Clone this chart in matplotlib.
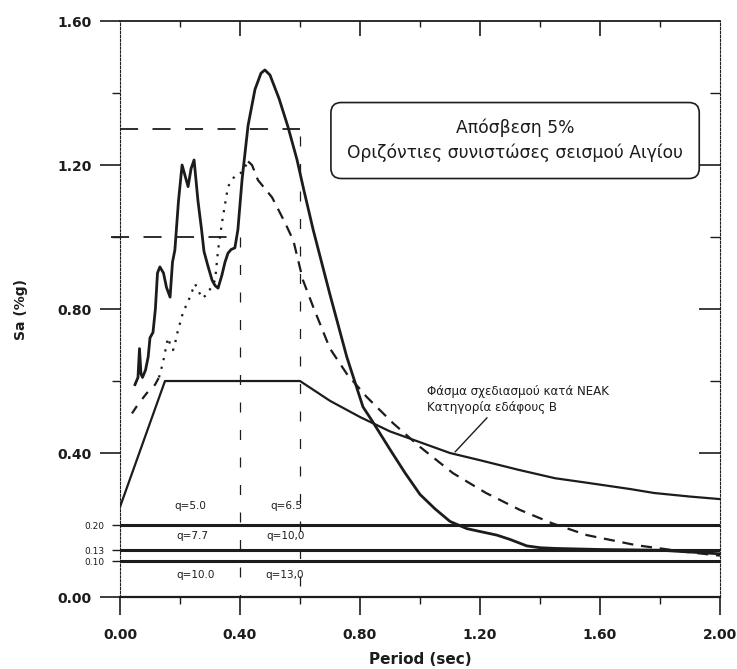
import numpy as np
import matplotlib
matplotlib.use("Agg")
import matplotlib.pyplot as plt

# recorded spectrum, solid line (period in sec, Sa in g)
rec_T = [0.05, 0.06, 0.065, 0.07, 0.075, 0.085, 0.094, 0.10, 0.11, 0.118, 0.125, 0.133,
         0.145, 0.155, 0.167, 0.175, 0.183, 0.195, 0.207, 0.217, 0.227, 0.237, 0.247,
         0.26, 0.272, 0.28, 0.293, 0.307, 0.317, 0.327, 0.34, 0.35, 0.36, 0.37, 0.383,
         0.393, 0.407, 0.427, 0.45, 0.47, 0.483, 0.50, 0.53, 0.56, 0.59, 0.613, 0.644,
         0.70, 0.756, 0.81, 0.84, 0.87, 0.90, 0.95, 1.0, 1.05, 1.10, 1.156, 1.20, 1.256,
         1.30, 1.356, 1.40, 1.45, 1.60, 1.80, 2.0]
rec_Sa = [0.59, 0.61, 0.69, 0.62, 0.61, 0.63, 0.667, 0.72, 0.735, 0.80, 0.90, 0.917,
          0.90, 0.86, 0.833, 0.93, 0.964, 1.10, 1.20, 1.17, 1.14, 1.19, 1.214,
          1.10, 1.02, 0.96, 0.92, 0.88, 0.865, 0.858, 0.895, 0.93, 0.955, 0.965, 0.97,
          1.02, 1.16, 1.31, 1.41, 1.455, 1.464, 1.45, 1.385, 1.306, 1.215, 1.13, 1.02,
          0.84, 0.667, 0.528, 0.49, 0.45, 0.41, 0.345, 0.285, 0.245, 0.21, 0.19, 0.182,
          0.172, 0.16, 0.142, 0.137, 0.135, 0.132, 0.13, 0.12]

# second component, dotted then dashed
rec2_T = [0.04, 0.06, 0.09, 0.117, 0.13, 0.143, 0.155, 0.16, 0.168, 0.177, 0.185, 0.193,
          0.21, 0.233, 0.25, 0.262, 0.273, 0.29, 0.317, 0.327, 0.34, 0.36, 0.383, 0.407,
          0.427, 0.44, 0.46, 0.507, 0.55, 0.578, 0.61, 0.644, 0.70, 0.756, 0.822, 0.91,
          1.0, 1.11, 1.22, 1.333, 1.44, 1.556, 1.72, 1.89, 2.0]
rec2_Sa = [0.51, 0.535, 0.567, 0.59, 0.61, 0.65, 0.70, 0.72, 0.70, 0.686, 0.71, 0.74,
           0.79, 0.833, 0.87, 0.85, 0.83, 0.84, 0.88, 0.964, 1.04, 1.14, 1.17, 1.18,
           1.21, 1.20, 1.158, 1.11, 1.04, 0.99, 0.88, 0.806, 0.69, 0.62, 0.556, 0.483,
           0.417, 0.344, 0.289, 0.242, 0.205, 0.172, 0.144, 0.125, 0.115]

# design spectrum (NEAK, soil B)
neak_T = [0.0, 0.15, 0.60, 0.70, 0.80, 0.90, 1.0, 1.10, 1.20, 1.33, 1.45, 1.56, 1.70,
          1.78, 1.90, 2.0]
neak_Sa = [0.25, 0.60, 0.60, 0.545, 0.50, 0.46, 0.43, 0.40, 0.38, 0.353, 0.33, 0.317,
           0.30, 0.289, 0.279, 0.272]

# design levels for behaviour factors q
q_levels = [0.20, 0.13, 0.10]
q_level_labels = ["0.20", "0.13", "0.10"]

ink = "#1c1c1c"

fig = plt.figure(figsize=(7.37, 6.69), dpi=100)
ax = fig.add_axes([0.1628, 0.1076, 0.8141, 0.861])
ax.set_xlim(0, 2.0)
ax.set_ylim(0, 1.6)

# curves
ax.plot(rec_T, rec_Sa, color=ink, lw=2.0, solid_joinstyle="round", zorder=4)
t2 = np.array(rec2_T)
s2 = np.array(rec2_Sa)
m1 = t2 <= 0.13
m2 = (t2 >= 0.13) & (t2 <= 0.427)
m3 = t2 >= 0.427
ax.plot(t2[m1], s2[m1], color=ink, lw=1.6, linestyle=(0, (4, 4)), zorder=4)
ax.plot(t2[m2], s2[m2], color=ink, lw=1.6, linestyle=(0, (1, 3)), zorder=4)
ax.plot(t2[m3], s2[m3], color=ink, lw=1.6, linestyle=(0, (5, 3.5)), zorder=4)
ax.plot(neak_T, neak_Sa, color=ink, lw=1.6, solid_joinstyle="round", zorder=4)

for lvl in q_levels:
    ax.axhline(lvl, color=ink, lw=2.2, zorder=3)

# dashed guide frame
ax.plot([0, 0.6], [1.3, 1.3], color=ink, lw=1.3, linestyle=(0, (10, 8)), zorder=2)
ax.plot([-0.03, 0.4], [1.0, 1.0], color=ink, lw=1.3, linestyle=(0, (10, 8)), zorder=2,
        clip_on=False)
ax.plot([0.4, 0.4], [1.0, 0], color=ink, lw=0.9, linestyle=(0, (8, 14)), zorder=2)
ax.plot([0.6, 0.6], [1.28, 0], color=ink, lw=0.9, linestyle=(0, (8, 14)), zorder=2)

# q labels
qtxt = dict(fontsize=7.5, color=ink, ha="center", va="center")
ax.text(0.233, 0.253, "q=5.0", **qtxt)
ax.text(0.556, 0.253, "q=6.5", **qtxt)
ax.text(0.24, 0.17, "q=7.7", **qtxt)
ax.text(0.553, 0.17, "q=10,0", **qtxt)
ax.text(0.253, 0.061, "q=10.0", **qtxt)
ax.text(0.55, 0.061, "q=13,0", **qtxt)

# info box
ax.text(1.317, 1.268, "Απόσβεση 5%\nΟριζόντιες συνιστώσες σεισμού Αιγίου",
        fontsize=12.3, color=ink, ha="center", va="center", multialignment="center",
        linespacing=1.45,
        bbox=dict(boxstyle="round,pad=0.95,rounding_size=0.6", fc="white", ec=ink, lw=1.2),
        zorder=5)

# design spectrum annotation
ax.annotate("Φάσμα σχεδιασμού κατά ΝΕΑΚ\nΚατηγορία εδάφους Β",
            xy=(1.117, 0.403), xytext=(1.023, 0.548), fontsize=8.6, color=ink,
            ha="left", va="center", linespacing=1.25,
            arrowprops=dict(arrowstyle="-", color=ink, lw=1.0, relpos=(0.35, 0),
                            shrinkA=1, shrinkB=0))

# spines
for s in ["left", "right"]:
    ax.spines[s].set_linestyle((0, (2, 1.5)))
    ax.spines[s].set_linewidth(0.8)
    ax.spines[s].set_color(ink)
ax.spines["top"].set_linewidth(1.3)
ax.spines["bottom"].set_linewidth(1.6)
ax.spines["top"].set_color(ink)
ax.spines["bottom"].set_color(ink)

# ticks
ax.set_xticks(np.arange(0, 2.01, 0.4))
ax.set_xticks(np.arange(0.2, 2.0, 0.4), minor=True)
ax.set_yticks([0, 0.4, 0.8, 1.2, 1.6])
ax.set_yticks(q_levels + [0.6, 1.0, 1.4], minor=True)
ax.set_xticklabels([f"{v:.2f}" for v in np.arange(0, 2.01, 0.4)])
ax.set_yticklabels(["0.00", "0.40", "0.80", "1.20", "1.60"])
ax.set_yticklabels(q_level_labels + ["", "", ""], minor=True)
ax.tick_params(axis="both", which="major", colors=ink, width=1.2, labelsize=10)
ax.tick_params(axis="x", which="major", direction="out", length=13, pad=9)
ax.tick_params(axis="x", which="minor", direction="out", length=5, width=1.0, colors=ink)
ax.tick_params(axis="y", which="major", direction="out", length=14.4, pad=6)
ax.tick_params(axis="y", which="minor", direction="out", length=6, width=1.0,
               colors=ink, labelsize=6.5, pad=5)
for lab in ax.get_xticklabels() + ax.get_yticklabels():
    lab.set_fontweight("bold")

top = ax.secondary_xaxis("top")
top.set_xticks(np.arange(0.4, 2.0, 0.4))
top.set_xticks(np.arange(0.2, 2.0, 0.4), minor=True)
top.tick_params(which="major", direction="in", length=11, width=1.2, colors=ink,
                labeltop=False)
top.tick_params(which="minor", direction="in", length=4, width=1.0, colors=ink)
top.spines["top"].set_visible(False)

right = ax.secondary_yaxis("right")
right.set_yticks([0.4, 0.8, 1.2])
right.set_yticks([0.6, 1.0, 1.4], minor=True)
right.tick_params(which="major", direction="in", length=15, width=1.2, colors=ink,
                  labelright=False)
right.tick_params(which="minor", direction="in", length=7, width=1.0, colors=ink)
right.spines["right"].set_visible(False)

ax.set_xlabel("Period (sec)", fontsize=11, fontweight="bold", color=ink)
ax.set_ylabel("Sa (%g)", fontsize=10, fontweight="bold", color=ink)
ax.xaxis.set_label_coords(0.5, -0.095)
ax.yaxis.set_label_coords(-0.153, 0.5)

fig.savefig("out.png", dpi=100, facecolor="white")
